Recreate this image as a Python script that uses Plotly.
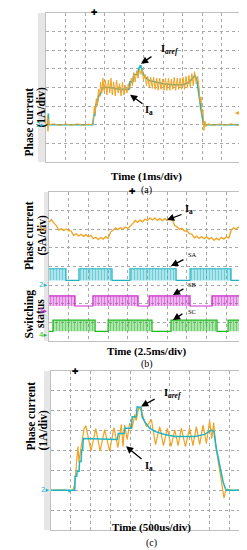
import plotly.graph_objects as go

# ---------------- data (oscilloscope divisions) ----------------
# Panel (a): time in div (1 ms/div), current in div (1 A/div), ground at 0
a_ref_t = [0, 0.1, 0.12, 0.14, 2.4, 2.45, 2.5, 2.55, 2.62, 2.7, 2.78, 2.9, 3.3, 3.8, 4.25, 4.3, 4.45, 4.5,
           4.7, 4.75, 4.85, 4.92, 5.0, 5.1, 5.25, 5.4, 5.6, 6.0, 6.5, 7.0, 7.3, 7.45, 7.55, 7.65, 7.75,
           7.85, 7.95, 8.05, 8.15, 10]
a_ref_i = [0, 0, 0.6, 0, 0, 0.5, 0.5, 1.1, 1.1, 1.6, 1.6, 2.0, 2.0, 1.9, 1.9, 2.3, 2.3, 2.7,
           2.7, 3.0, 3.2, 2.9, 2.7, 2.55, 2.4, 2.35, 2.3, 2.2, 2.15, 2.15, 2.25, 2.4, 2.5, 2.65, 2.3,
           1.5, 0.8, 0.2, 0, 0]
a_ia_t = [0, 0.05, 0.08, 0.1, 0.13, 0.16, 0.4, 0.7, 1.0, 1.3, 1.6, 1.9, 2.2, 2.35,
          2.42, 2.48, 2.52, 2.58, 2.63, 2.7, 2.75, 2.8, 2.86, 2.92, 2.98,
          3.05, 3.12, 3.2, 3.27, 3.33, 3.4, 3.47, 3.55, 3.62, 3.7, 3.77, 3.85, 3.92, 4.0, 4.07, 4.15, 4.22,
          4.3, 4.37, 4.43, 4.5, 4.57, 4.65, 4.72, 4.8, 4.87, 4.93, 5.0,
          5.08, 5.15, 5.22, 5.3, 5.37, 5.45, 5.52, 5.6, 5.68, 5.75, 5.83, 5.9, 5.98, 6.05, 6.13, 6.2,
          6.28, 6.35, 6.43, 6.5, 6.58, 6.65, 6.73, 6.8, 6.88, 6.95, 7.03, 7.1, 7.18, 7.25, 7.33, 7.4,
          7.48, 7.55, 7.62, 7.7, 7.78,
          7.85, 7.9, 7.95, 8.0, 8.05, 8.1, 8.15, 8.2, 8.3,
          8.6, 8.9, 9.2, 9.5, 9.8, 9.95, 9.97, 10]
a_ia_i = [0.05, 0.0, 0.5, -0.35, 0.3, 0.0, 0.05, -0.03, 0.04, -0.02, 0.05, -0.03, 0.03, 0.0,
          0.2, 1.0, 0.6, 1.4, 1.0, 1.9, 1.5, 2.3, 1.7, 2.5, 1.8,
          2.4, 1.6, 2.4, 1.7, 2.5, 1.6, 2.3, 1.55, 2.4, 1.7, 2.2, 1.55, 2.3, 1.6, 2.1, 1.7, 2.2,
          1.9, 2.5, 2.1, 2.8, 2.3, 2.9, 2.5, 3.0, 2.7, 2.95, 2.4,
          2.7, 2.1, 2.6, 2.0, 2.55, 1.95, 2.55, 1.9, 2.5, 1.85, 2.5, 1.9, 2.45, 1.85, 2.5, 1.85,
          2.5, 1.85, 2.45, 1.9, 2.55, 1.85, 2.5, 1.9, 2.5, 1.9, 2.55, 1.9, 2.6, 2.0, 2.65, 2.0,
          2.75, 2.1, 2.85, 2.2, 2.6,
          2.0, 1.2, 1.5, 0.6, 0.8, -0.3, 0.2, -0.1, 0.05,
          -0.03, 0.04, -0.02, 0.05, -0.03, 0.0, -0.5, -0.6]

# Panel (b): time in div (2.5 ms/div); trace levels in div
b_ia_t = [0.0, 0.125, 0.25, 0.375, 0.5, 0.625, 0.75, 0.875, 1.0, 1.125, 1.25, 1.375, 1.5, 1.625, 1.75,
          1.875, 2.0, 2.125, 2.25, 2.375, 2.5, 2.625, 2.75, 2.875, 3.0, 3.125, 3.25, 3.375, 3.5, 3.625,
          3.75, 3.875, 4.0, 4.125, 4.25, 4.375, 4.5, 4.625, 4.75, 4.875, 5.0, 5.125, 5.25, 5.375, 5.5,
          5.625, 5.75, 5.875, 6.0, 6.125, 6.25, 6.375, 6.5, 6.625, 6.75, 6.875, 7.0, 7.125, 7.25, 7.375,
          7.5, 7.625, 7.75, 7.875, 8.0, 8.125, 8.25, 8.375, 8.5, 8.625, 8.75, 8.875, 9.0, 9.125, 9.25,
          9.375, 9.5, 9.625, 9.75, 9.875, 10.0]
b_ia_i = [6.38, 6.52, 6.33, 6.20, 5.96, 6.03, 5.93, 6.01, 5.92, 5.90, 5.66, 5.76, 5.64, 5.73, 5.62,
          5.71, 5.60, 5.67, 5.49, 5.57, 5.44, 5.56, 5.47, 5.60, 5.50, 5.85, 5.95, 6.07, 5.98, 6.09,
          6.00, 6.12, 6.04, 6.16, 6.30, 6.47, 6.37, 6.49, 6.40, 6.55, 6.47, 6.61, 6.50, 6.60, 6.48,
          6.58, 6.46, 6.57, 6.47, 6.58, 6.55, 6.20, 6.13, 5.99, 6.05, 5.90, 5.92, 5.76, 5.74, 5.54,
          5.62, 5.51, 5.61, 5.49, 5.60, 5.47, 5.55, 5.40, 5.52, 5.43, 5.57, 5.47, 5.60, 5.53, 5.95,
          6.08, 6.00, 6.12, 6.04, 6.15, 6.09]
# switching states: segment boundaries (div) and state (1 = switching, 0 = held low)
sa_edges = [0, 0.86, 1.27, 1.52, 3.2, 4.11, 6.45, 7.16, 9.24, 10]
sa_state = [1, 0, 0, 1, 0, 1, 0, 1, 0]
sb_edges = [0, 1.32, 2.23, 4.52, 5.08, 7.16, 8.27, 10]
sb_state = [1, 0, 1, 0, 1, 0, 1]
sc_edges = [0, 0.2, 2.34, 3.0, 5.23, 6.19, 8.53, 9.09, 10]
sc_state = [0, 1, 0, 1, 0, 1, 0, 1]
sa_low, sa_high = 3.25, 3.88
sb_low, sb_high = 1.88, 2.42
sc_low, sc_high = 0.52, 1.12

# Panel (c): time in div (500 us/div), current in div (1 A/div)
c_ref_t = [0, 0.9, 0.92, 0.95, 1.2, 1.22, 1.3, 1.32, 1.42, 1.44, 1.52, 1.55, 1.6, 1.63, 3.35, 3.4, 3.7,
           3.72, 4.05, 4.1, 4.3, 4.35, 4.55, 4.6, 4.73, 4.98, 5.24, 5.74, 6.25, 7.26, 7.76, 8.1, 8.23,
           8.35, 8.52, 8.69, 8.8, 8.85, 10]
c_ref_i = [0, 0, -0.1, 0, 0, 0.7, 0.7, 0.95, 0.95, 1.45, 1.45, 2.03, 2.03, 2.6, 2.55, 2.86, 2.86,
           3.12, 3.12, 3.7, 3.7, 4.2, 4.17, 3.7, 3.45, 3.12, 2.96, 2.81, 2.7, 2.7, 2.81, 3.03, 2.95,
           2.11, 1.27, 0.43, 0.1, 0, 0]
c_ia_t = [0, 0.5, 1.0, 1.1, 1.2, 1.28, 1.36, 1.41, 1.5, 1.57, 1.67, 1.76,
          2.02, 2.26, 2.48, 2.71, 2.96, 3.18, 3.38, 3.55,
          3.64, 3.72, 3.85, 3.97, 4.09, 4.23, 4.3, 4.44, 4.56, 4.73, 4.82,
          5.07, 5.28, 5.49, 5.68, 5.88, 6.06, 6.25, 6.42, 6.58, 6.79, 7.0, 7.17, 7.34, 7.51, 7.68, 7.85,
          8.01, 8.12, 8.22, 8.3, 8.42, 8.55, 8.68, 8.74, 8.8, 8.9, 9.2, 9.5, 9.8, 10]
c_ia_i = [0, 0.02, -0.02, 0.0, 0.3, 1.2, 2.2, 1.45, 2.0, 2.6, 3.1, 3.25,
          1.98, 3.1, 1.98, 3.05, 1.98, 3.15, 2.15, 3.3,
          2.2, 3.28, 2.55, 3.37, 3.1, 3.8, 3.5, 4.2, 4.0, 3.45, 3.2,
          3.55, 2.3, 3.2, 2.25, 3.12, 2.2, 3.04, 2.25, 3.12, 2.2, 3.12, 2.25, 3.2, 2.3, 3.28, 2.35,
          3.48, 2.6, 3.4, 2.4, 1.6, 0.8, 0.0, -0.4, -0.1, 0.05, -0.02, 0.02, -0.02, 0]

ORANGE = "#F4A21E"
CYAN = "#1DB5C4"
MAGENTA = "#CC2FCC"
GREEN = "#1FB81F"
SERIF = "Liberation Serif"

W, H = 247, 550
# panel pixel boxes (left, right, top, bottom)
boxes = {"a": (38, 233, 5, 154), "b": (41, 238, 184, 333), "c": (43, 241, 363, 522)}
strips = {"a": (30, 38), "b": (36, 41), "c": (36, 43)}


def dom(b):
    l, r, t, bt = b
    return [l / W, r / W], [1 - bt / H, 1 - t / H]


fig = go.Figure()

# ---- panel (a)
fig.add_trace(go.Scatter(x=a_ref_t, y=a_ref_i, mode="lines", line=dict(color=CYAN, width=1.6),
                         xaxis="x", yaxis="y", hoverinfo="skip"))
fig.add_trace(go.Scatter(x=a_ia_t, y=a_ia_i, mode="lines", line=dict(color=ORANGE, width=1.0),
                         xaxis="x", yaxis="y", hoverinfo="skip"))

# ---- panel (b)
fig.add_trace(go.Scatter(x=b_ia_t, y=b_ia_i, mode="lines", line=dict(color=ORANGE, width=1.3),
                         xaxis="x2", yaxis="y2", hoverinfo="skip"))


def add_switch(edges, states, low, high, color, light):
    xs, ys = [], []
    for i, s in enumerate(states):
        lvl = high if s else low
        xs += [edges[i], edges[i + 1]]
        ys += [lvl, lvl]
        if s:
            fig.add_trace(go.Scatter(
                x=[edges[i], edges[i + 1], edges[i + 1], edges[i], edges[i]],
                y=[low, low, high, high, low], mode="lines", fill="toself",
                fillcolor=light, fillpattern=dict(shape="|", fgcolor=color, bgcolor=light,
                                                  size=3, solidity=0.45),
                line=dict(width=0), xaxis="x2", yaxis="y2", hoverinfo="skip"))
    fig.add_trace(go.Scatter(x=xs, y=ys, mode="lines", line=dict(color=color, width=1.2),
                             xaxis="x2", yaxis="y2", hoverinfo="skip"))


add_switch(sa_edges, sa_state, sa_low, sa_high, CYAN, "rgba(29,181,196,0.3)")
add_switch(sb_edges, sb_state, sb_low, sb_high, MAGENTA, "rgba(204,47,204,0.3)")
add_switch(sc_edges, sc_state, sc_low, sc_high, GREEN, "rgba(31,184,31,0.3)")

# ---- panel (c)
fig.add_trace(go.Scatter(x=c_ia_t, y=c_ia_i, mode="lines", line=dict(color=ORANGE, width=1.2),
                         xaxis="x3", yaxis="y3", hoverinfo="skip"))
fig.add_trace(go.Scatter(x=c_ref_t, y=c_ref_i, mode="lines", line=dict(color=CYAN, width=1.5),
                         xaxis="x3", yaxis="y3", hoverinfo="skip"))

axcommon = dict(showgrid=True, griddash="dot", gridcolor="#a8a8a8", gridwidth=1, zeroline=False,
                showticklabels=False, ticks="", showline=True, linecolor="#c0c0c0", linewidth=1,
                mirror=True, dtick=1, fixedrange=True)
yrng = {"a": [-2, 6], "b": [0, 8], "c": [-2, 6]}
layout_axes = {}
for k, suf in zip("abc", ["", "2", "3"]):
    dx, dy = dom(boxes[k])
    layout_axes["xaxis" + suf] = dict(axcommon, domain=dx, range=[0, 10], tick0=0,
                                      anchor="y" + suf)
    layout_axes["yaxis" + suf] = dict(axcommon, domain=dy, range=yrng[k], tick0=0,
                                      anchor="x" + suf)

shapes = []
for k in "abc":
    l, r, t, bt = boxes[k]
    s0, s1 = strips[k]
    shapes.append(dict(type="rect", xref="paper", yref="paper", x0=s0 / W, x1=s1 / W,
                       y0=1 - bt / H, y1=1 - t / H, fillcolor="#e6e6e6", line=dict(width=0),
                       layer="below"))

ann = []


def txt(x, y, s, size=11, color="black", angle=0, xref="paper", yref="paper", **kw):
    ann.append(dict(x=x, y=y, xref=xref, yref=yref, text=s, showarrow=False, textangle=angle,
                    font=dict(family=SERIF, size=size, color=color), **kw))


def arrow(xt, yt, ax, ay, xref, yref):
    ann.append(dict(x=xt, y=yt, xref=xref, yref=yref, ax=ax, ay=ay, axref="pixel", ayref="pixel",
                    text="", showarrow=True, arrowhead=2, arrowsize=1.1, arrowwidth=1.3,
                    arrowcolor="black"))


# y titles
txt(12 / W, 1 - 78 / H, "<b>Phase current</b>", size=11.5, angle=-90)
txt(24 / W, 1 - 78 / H, "<b>(1A/div)</b>", size=11.5, angle=-90)
txt(13 / W, 1 - 228 / H, "<b>Phase current</b>", size=11.5, angle=-90)
txt(25 / W, 1 - 228 / H, "<b>(5A/div)</b>", size=11.5, angle=-90)
txt(12 / W, 1 - 306 / H, "<b>Switching</b>", size=11.5, angle=-90)
txt(24 / W, 1 - 306 / H, "<b>status</b>", size=11.5, angle=-90)
txt(14 / W, 1 - 445 / H, "<b>Phase current</b>", size=11.5, angle=-90)
txt(26 / W, 1 - 445 / H, "<b>(1A/div)</b>", size=11.5, angle=-90)

# x titles and captions
txt(138 / W, 1 - 160 / H, "<b>Time (1ms/div)</b>", size=11)
txt(138 / W, 1 - 174 / H, "(a)", size=10)
txt(139 / W, 1 - 343 / H, "<b>Time (2.5ms/div)</b>", size=11)
txt(139 / W, 1 - 356 / H, "(b)", size=10)
txt(143 / W, 1 - 528 / H, "<b>Time (500us/div)</b>", size=11)
txt(143 / W, 1 - 543 / H, "(c)", size=10)

# callouts panel (a)
arrow(4.87, 3.28, 12, -8, "x", "y")
txt(6.36, 4.03, "<b>I<sub><i>aref</i></sub></b>", size=10.5, xref="x", yref="y")
arrow(4.31, 1.61, 14, 10, "x", "y")
txt(5.3, 0.78, "<b>I<sub>a</sub></b>", size=10.5, xref="x", yref="y")
# callouts panel (b)
arrow(5.99, 6.5, 16, -6, "x2", "y2")
txt(7.1, 7.04, "<b>I<sub>a</sub></b>", size=10.5, xref="x2", yref="y2")
arrow(6.19, 4.03, 14, -7, "x2", "y2")
txt(7.3, 4.62, "SA", size=6.5, xref="x2", yref="y2")
arrow(6.29, 2.47, 12, -7, "x2", "y2")
txt(7.3, 3.01, "SB", size=6.5, xref="x2", yref="y2")
arrow(6.29, 1.13, 11, -7, "x2", "y2")
txt(7.25, 1.61, "SC", size=6.5, xref="x2", yref="y2")
# callouts panel (c)
arrow(4.55, 4.22, 15, -8, "x3", "y3")
txt(6.15, 4.87, "<b>I<sub><i>aref</i></sub></b>", size=10.5, xref="x3", yref="y3")
arrow(3.79, 2.21, 17, 14, "x3", "y3")
txt(4.95, 1.21, "<b>I<sub>a</sub></b>", size=10.5, xref="x3", yref="y3")

# channel markers
MK = "DejaVu Sans"


def mark(x, y, s, color, xref, yref, xanchor, size=7):
    ann.append(dict(x=x, y=y, xref=xref, yref=yref, text=s, showarrow=False, xanchor=xanchor,
                    font=dict(family=MK, size=size, color=color)))


mark(0, 0, "2▸", CYAN, "x domain", "y", "right")
mark(1, 0.65, "◂", ORANGE, "x domain", "y", "right", 8)
mark(0, 6, "1▸", ORANGE, "x2 domain", "y2", "right")
mark(0, 3, "2▸", CYAN, "x2 domain", "y2", "right")
mark(0, 1.63, "3▸", MAGENTA, "x2 domain", "y2", "right")
mark(0, 0.34, "4▸", GREEN, "x2 domain", "y2", "right")
mark(0, 0, "2▸", CYAN, "x3 domain", "y3", "right")
mark(1, 0.65, "◂", ORANGE, "x3 domain", "y3", "right", 8)
# trigger markers at top
for xv, xr, yr in [(2.51, "x", "y domain"), (4.26, "x2", "y2 domain"), (1.26, "x3", "y3 domain")]:
    ann.append(dict(x=xv, y=1, xref=xr, yref=yr, text="✚", showarrow=False, yanchor="middle",
                    font=dict(family=MK, size=8, color="black")))

fig.update_layout(width=W, height=H, margin=dict(l=0, r=0, t=0, b=0), showlegend=False,
                  paper_bgcolor="white", plot_bgcolor="white", shapes=shapes, annotations=ann,
                  **layout_axes)
fig.write_html("out.html", config={"displayModeBar": False})
